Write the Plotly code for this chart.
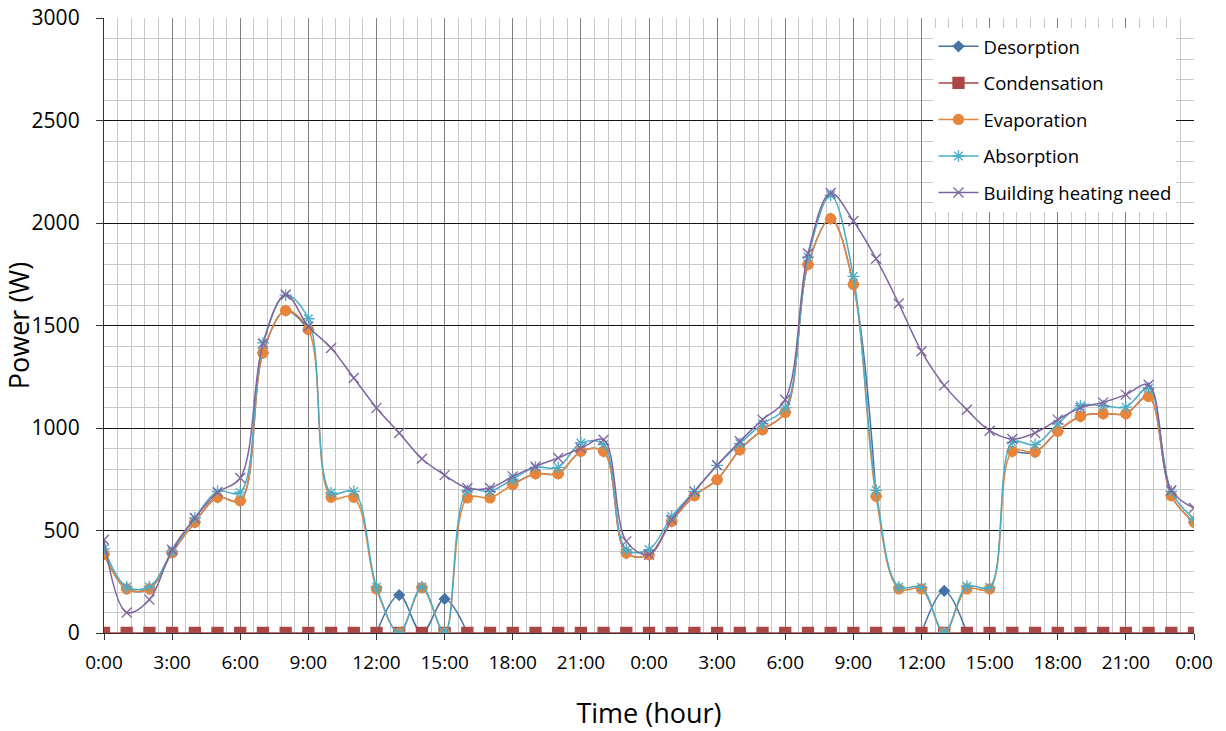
import plotly.graph_objects as go

hours = list(range(49))
tick_hours = list(range(0, 49, 3))
tick_labels = ["0:00", "3:00", "6:00", "9:00", "12:00", "15:00", "18:00", "21:00",
               "0:00", "3:00", "6:00", "9:00", "12:00", "15:00", "18:00", "21:00", "0:00"]

evaporation = [385, 215, 215, 392, 540, 662, 645, 1366, 1573, 1480, 662, 662, 215, 0, 220, 0,
               659, 659, 724, 777, 777, 886, 886, 390, 382, 545, 670, 748, 894, 992, 1076,
               1797, 2021, 1700, 667, 215, 215, 0, 215, 215, 886, 883, 984, 1057, 1070, 1070,
               1154, 670, 540]

desorption = [385, 215, 215, 392, 540, 662, 645, 1366, 1573, 1480, None, None, 0, 185, 0, 166,
              0, None, 724, 777, 777, 886, 886, 390, 382, 545, 670, 748, 894, 992, 1076,
              1797, 2021, 1700, 667, None, 0, 205, 0, None, 886, 883, 984, 1057, 1070, 1070,
              1154, 670, 540]

condensation = [0] * 49

absorption = [410, 225, 225, 398, 561, 691, 686, 1415, 1648, 1533, 683, 691, 225, 0, 225, 0,
              694, 691, 751, 808, 808, 927, 919, 407, 407, 569, 691, 818, 924, 1021, 1098,
              1834, 2135, 1740, 696, 225, 223, 0, 228, 223, 930, 919, 1020, 1109, 1109, 1102,
              1195, 691, 556]

heating_need = [455, 100, 163, 406, 561, 686, 756, 1411, 1651, 1495, 1390, 1244, 1098, 976,
                850, 770, 707, 707, 764, 813, 854, 902, 943, 447, 382, 553, 691, 818, 935,
                1041, 1138, 1851, 2146, 2010, 1826, 1607, 1374, 1208, 1089, 987, 946, 976,
                1041, 1098, 1125, 1163, 1211, 696, 610]

series = [
    ("Desorption", desorption, "#4572A7", "diamond", 8),
    ("Condensation", condensation, "#AA4643", "square", 11),
    ("Evaporation", evaporation, "#E8853A", "circle", 10),
    ("Absorption", absorption, "#4BACC6", "asterisk-open", 10),
    ("Building heating need", heating_need, "#8064A2", "x-thin-open", 10),
]

fig = go.Figure()
for i, (name, vals, col, sym, sz) in enumerate(series):
    fig.add_trace(go.Scatter(
        x=hours, y=vals, name=name, mode="lines+markers",
        line=dict(color=col, width=1.5, shape="spline", smoothing=1),
        marker=dict(symbol=sym, size=sz, color=col, line=dict(color=col, width=1.3)),
        legendgroup="g%d" % i, connectgaps=False,
    ))

font_family = "Open Sans, DejaVu Sans, sans-serif"
fig.update_layout(
    width=1226, height=731,
    margin=dict(l=104, r=32, t=18, b=98),
    paper_bgcolor="white", plot_bgcolor="white",
    font=dict(family=font_family, color="#000000"),
    showlegend=True,
    legend=dict(
        x=0.761, y=0.984, xanchor="left", yanchor="top",
        bgcolor="white", borderwidth=0,
        font=dict(size=18.5, family=font_family, color="#000000"),
        itemwidth=40, tracegroupgap=9.5,
    ),
)
fig.update_xaxes(
    range=[0, 48], tickmode="array", tickvals=tick_hours, ticktext=tick_labels,
    showgrid=True, gridcolor="#7f7f7f", gridwidth=1.2,
    minor=dict(dtick=0.6, tick0=0, showgrid=True, gridcolor="#c8c8c8", gridwidth=1.2),
    ticks="outside", ticklen=6, tickcolor="#333", tickwidth=1,
    showline=True, linecolor="#333", linewidth=1, mirror=False,
    tickfont=dict(size=19, color="#000000"), ticklabelstandoff=6,
    ticklabeloverflow="allow",
    title=dict(text="Time (hour)", font=dict(size=27, color="#000000"), standoff=32),
    zeroline=False, automargin=False,
)
fig.update_yaxes(
    range=[0, 3000], dtick=500, tick0=0,
    showgrid=True, gridcolor="#111111", gridwidth=1.3,
    minor=dict(dtick=100, showgrid=True, gridcolor="#c8c8c8", gridwidth=1.2),
    ticks="outside", ticklen=7, tickcolor="#333", tickwidth=1,
    showline=True, linecolor="#333", linewidth=1.3,
    tickfont=dict(size=21, color="#000000"), ticklabelstandoff=12,
    ticklabeloverflow="allow",
    title=dict(text="Power (W)", font=dict(size=27, color="#000000"), standoff=3),
    zeroline=False, automargin=False,
)

fig.write_html("out.html", config={"displayModeBar": False},
               post_script="document.body.style.margin='0';document.body.style.overflow='hidden';")
